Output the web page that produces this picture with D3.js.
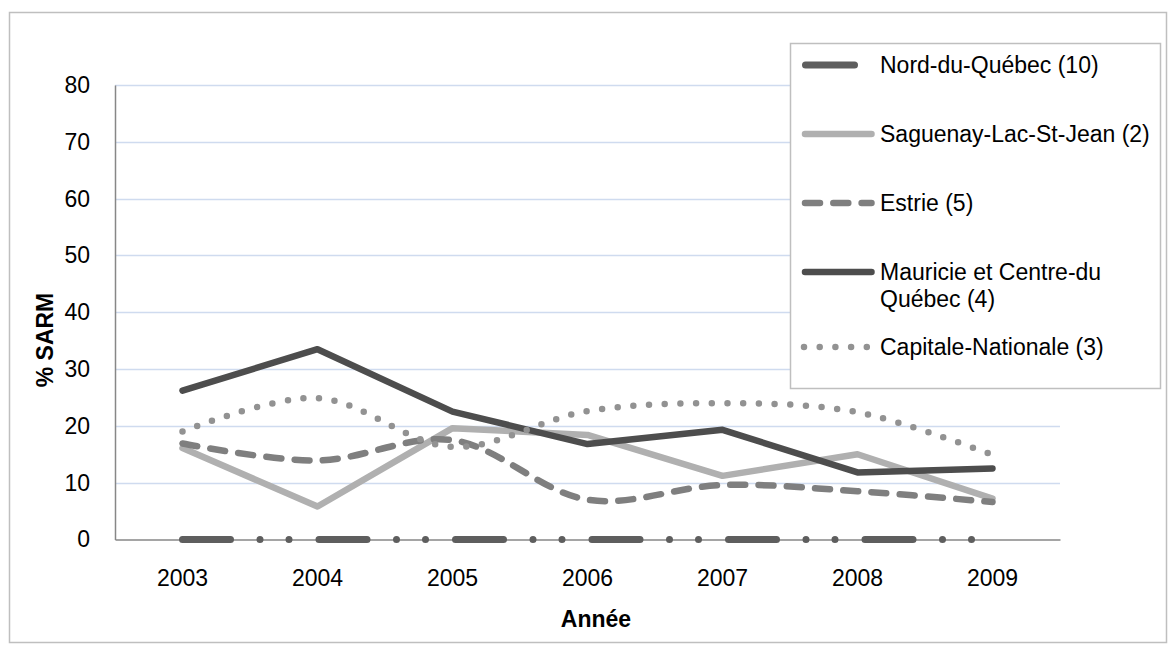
<!DOCTYPE html>
<html><head><meta charset="utf-8">
<script src="https://cdn.jsdelivr.net/npm/d3@7"></script>
<style>body{margin:0;background:#fff}svg{display:block;font-family:"Liberation Sans",Arial,sans-serif}</style>
</head><body>
<svg id="c" width="1175" height="654"></svg>
<script>
const years = ["2003","2004","2005","2006","2007","2008","2009"];
const yTicks = [0,10,20,30,40,50,60,70,80];
const seriesNames = ["Nord-du-Québec (10)","Saguenay-Lac-St-Jean (2)","Estrie (5)","Mauricie et Centre-du Québec (4)","Capitale-Nationale (3)"];
const nordDuQuebec   = [0,0,0,0,0,0,0];
const saguenay       = [16.1,5.8,19.6,18.4,11.2,15.0,7.2];
const estrie         = [16.9,13.9,17.5,7.0,9.6,8.5,6.6];
const mauricie       = [26.2,33.5,22.5,16.8,19.3,11.8,12.5];
const capitale       = [19.0,24.9,16.3,22.6,24.0,22.4,14.9];
const legendLines = [["Nord-du-Québec (10)"],["Saguenay-Lac-St-Jean (2)"],["Estrie (5)"],["Mauricie et Centre-du","Québec (4)"],["Capitale-Nationale (3)"]];

const styles = [
  {color:"#5e5e5e", width:7, dash:"48 29.5 0 29 0 30", cap:"round", smooth:false},
  {color:"#b0b0b0", width:6.5, dash:null, cap:"round", smooth:false},
  {color:"#7f7f7f", width:6.5, dash:"15 13.3", cap:"round", smooth:true},
  {color:"#4d4d4d", width:6.5, dash:null, cap:"round", smooth:false},
  {color:"#929292", width:6.5, dash:"0 15.7", cap:"round", smooth:true}
];
const data = [nordDuQuebec, saguenay, estrie, mauricie, capitale];

const svg = d3.select("#c");
const L=115, R=1060, T=85, B=539.5;
const x = d3.scaleBand().domain(years).range([L,R]).padding(0);
const y = d3.scaleLinear().domain([0,80]).range([B,T]);

// outer border
svg.append("rect").attr("x",9.5).attr("y",12.5).attr("width",1157).attr("height",630)
  .attr("fill","#fff").attr("stroke","#bfbfbf").attr("stroke-width",1.5);

// gridlines
svg.append("g").selectAll("line").data(yTicks.filter(d=>d>0)).join("line")
  .attr("x1",L).attr("x2",R).attr("y1",d=>Math.round(y(d))+0.5).attr("y2",d=>Math.round(y(d))+0.5)
  .attr("stroke","#cfdbef").attr("stroke-width",1.5);

// axes
const yAxis = d3.axisLeft(y).tickValues(yTicks).tickSize(0).tickPadding(25);
const gy = svg.append("g").attr("transform",`translate(${L},0)`).call(yAxis);
gy.select(".domain").attr("stroke","#878787").attr("stroke-width",1.5);
gy.selectAll("text").attr("font-size",23).attr("fill","#000").attr("font-family","Liberation Sans, Arial, sans-serif");

const xAxis = d3.axisBottom(x).tickSize(0).tickPadding(30);
const gx = svg.append("g").attr("transform",`translate(0,${B})`).call(xAxis);
gx.select(".domain").attr("stroke","#878787").attr("stroke-width",1.5);
gx.selectAll("text").attr("font-size",23).attr("fill","#000").attr("font-family","Liberation Sans, Arial, sans-serif");

// axis titles
svg.append("text").attr("transform",`translate(53,340) rotate(-90)`).attr("text-anchor","middle")
  .attr("font-size",23).attr("font-weight","bold").text("% SARM");
svg.append("text").attr("x",596).attr("y",627).attr("text-anchor","middle")
  .attr("font-size",23).attr("font-weight","bold").text("Année");

// series
const cx = d => x(d) + x.bandwidth()/2;
data.forEach((vals,i)=>{
  const st = styles[i];
  const line = d3.line().x((d,j)=>cx(years[j])).y(d=>y(d))
    .curve(st.smooth ? d3.curveCatmullRom.alpha(0.5) : d3.curveLinear);
  svg.append("path").datum(vals).attr("d",line).attr("fill","none")
    .attr("stroke",st.color).attr("stroke-width",st.width)
    .attr("stroke-linecap",st.cap).attr("stroke-linejoin","round")
    .attr("stroke-dasharray",st.dash);
});

// legend
svg.append("rect").attr("x",790.5).attr("y",43.5).attr("width",370).attr("height",345)
  .attr("fill","#fff").attr("stroke","#bfbfbf").attr("stroke-width",1.5);
const legY = i => 65 + i*69;
legendLines.forEach((lines,i)=>{
  const st = styles[i];
  const yy = legY(i) + (i===4 ? 6 : 0);
  const ln = svg.append("line").attr("y1",yy).attr("y2",yy)
    .attr("stroke",st.color).attr("stroke-width",st.width).attr("stroke-linecap",st.cap);
  if(i===0){ ln.attr("x1",805.5).attr("x2",854.5); }
  else if(i===4){ ln.attr("x1",804).attr("x2",874); ln.attr("stroke-dasharray",st.dash); }
  else { ln.attr("x1",805).attr("x2",871.5).attr("stroke-dasharray",st.dash); }
  lines.forEach((t,k)=>{
    svg.append("text").attr("x",880).attr("y",yy + 8 + k*27).attr("font-size",23).attr("fill","#000").text(t);
  });
});
</script>
</body></html>
